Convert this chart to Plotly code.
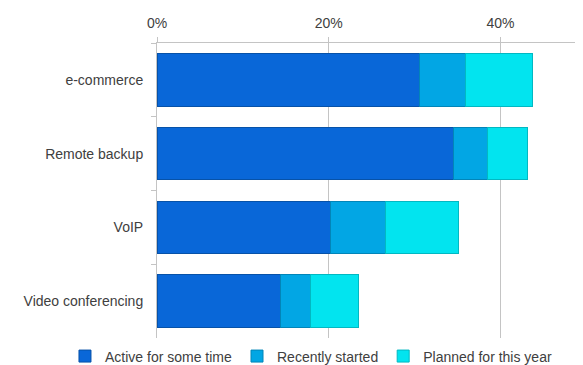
import plotly.graph_objects as go

categories = ["e-commerce", "Remote backup", "VoIP", "Video conferencing"]
active = [30.6, 34.5, 20.2, 14.4]
recent = [5.3, 4.0, 6.4, 3.5]
planned = [7.8, 4.6, 8.5, 5.6]
series_names = ["Active for some time", "Recently started", "Planned for this year"]
tick_vals = [0, 20, 40]
tick_text = ["0%", "20%", "40%"]

colors = ["#0967d8", "#02a6e4", "#02e4ef"]
edges = ["#0752a8", "#0285b8", "#02b8c2"]

fig = go.Figure()
for name, vals, c, e in zip(series_names, [active, recent, planned], colors, edges):
    fig.add_trace(go.Bar(
        y=categories, x=vals, name=name, orientation="h",
        marker=dict(color=c, line=dict(color=e, width=1)),
    ))

# the page body adds an 8px offset, so the figure is 8px smaller than the window
fig.update_layout(
    barmode="stack",
    bargap=0.29,
    width=575, height=357,
    margin=dict(l=149, r=0, t=35, b=26.5, autoexpand=False),
    paper_bgcolor="white", plot_bgcolor="white",
    font=dict(family="Liberation Sans, Arial, sans-serif", size=14, color="#404040"),
    showlegend=True,
    legend=dict(orientation="h", x=-0.216, xanchor="left",
                y=-0.0626, yanchor="middle", font=dict(size=14),
                itemwidth=30, traceorder="normal"),
)
fig.update_xaxes(
    side="top", range=[0, 49.6], tickvals=tick_vals, ticktext=tick_text,
    showgrid=True, gridcolor="#c4c4c4", gridwidth=1,
    showline=True, linecolor="#c4c4c4", ticks="outside", ticklen=5, tickcolor="#c4c4c4",
    zeroline=False, automargin=False, tickangle=0, ticklabelstandoff=3,
)
fig.update_yaxes(
    autorange="reversed", categoryorder="array", categoryarray=categories,
    showline=True, linecolor="#c4c4c4", ticks="outside", ticklen=5, tickcolor="#c4c4c4",
    tickson="boundaries", showgrid=False, ticklabelstandoff=10, automargin=False,
)

fig.write_html("out.html")
